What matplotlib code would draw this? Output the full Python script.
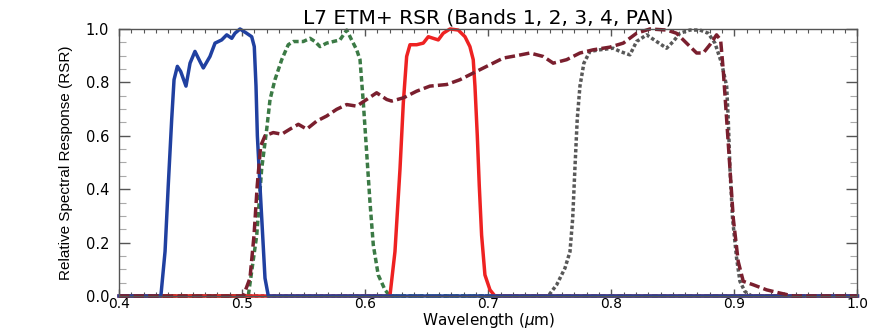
import matplotlib
matplotlib.use('Agg')
from matplotlib import pyplot as plt
from matplotlib.ticker import MultipleLocator

# relative spectral response curves
BAND1_WL = [0.400, 0.434, 0.4374, 0.4400, 0.4428, 0.4447, 0.4474, 0.4501, 0.4544, 0.4577,
            0.4617, 0.4658, 0.4685, 0.4739, 0.4780, 0.4834, 0.4875, 0.4916, 0.4942, 0.4983,
            0.5037, 0.5078, 0.5099, 0.5113, 0.5124, 0.5145, 0.5167, 0.5186, 0.5213, 1.000]
BAND1_RSR = [0.0, 0.0, 0.167, 0.414, 0.662, 0.810, 0.860, 0.841, 0.786, 0.872,
             0.916, 0.878, 0.854, 0.897, 0.947, 0.959, 0.978, 0.965, 0.984, 1.0,
             0.984, 0.971, 0.934, 0.786, 0.600, 0.414, 0.228, 0.067, 0.0, 0.0]

BAND2_WL = [0.400, 0.5050, 0.5119, 0.5159, 0.5200, 0.5227, 0.5267, 0.5322, 0.5375, 0.5416,
            0.5497, 0.5552, 0.5592, 0.5633, 0.5687, 0.5741, 0.5795, 0.5850, 0.5890, 0.5931,
            0.5958, 0.5985, 0.6012, 0.6039, 0.6066, 0.6106, 0.6161, 0.6201, 1.000]
BAND2_RSR = [0.0, 0.0, 0.228, 0.476, 0.625, 0.736, 0.810, 0.885, 0.941, 0.953,
             0.953, 0.965, 0.953, 0.934, 0.947, 0.953, 0.959, 0.996, 0.959, 0.922,
             0.885, 0.724, 0.538, 0.352, 0.191, 0.079, 0.023, 0.0, 0.0]

BAND3_WL = [0.400, 0.6201, 0.6242, 0.6283, 0.6310, 0.6337, 0.6364, 0.6418, 0.6472, 0.6513,
            0.6553, 0.6594, 0.6634, 0.6689, 0.6756, 0.6811, 0.6851, 0.6878, 0.6892, 0.6911,
            0.6927, 0.6946, 0.6973, 0.7014, 0.7054, 1.000]
BAND3_RSR = [0.0, 0.0, 0.166, 0.476, 0.724, 0.897, 0.941, 0.941, 0.947, 0.971,
             0.965, 0.959, 0.984, 1.0, 0.996, 0.971, 0.934, 0.885, 0.786, 0.600,
             0.414, 0.228, 0.079, 0.023, 0.0, 0.0]

BAND4_WL = [0.400, 0.7487, 0.7556, 0.7623, 0.7664, 0.7686, 0.7704, 0.7723, 0.7745, 0.7777,
            0.7826, 0.7907, 0.8015, 0.8070, 0.8151, 0.8205, 0.8287, 0.8368, 0.8449, 0.8503,
            0.8557, 0.8638, 0.8720, 0.8787, 0.8842, 0.8896, 0.8937, 0.8950, 0.8964, 0.8985,
            0.9018, 0.9045, 0.9085, 0.9140, 1.000]
BAND4_RSR = [0.0, 0.0, 0.042, 0.104, 0.166, 0.290, 0.476, 0.662, 0.786, 0.872,
             0.916, 0.922, 0.928, 0.916, 0.903, 0.953, 0.978, 0.953, 0.928, 0.953,
             0.984, 0.996, 0.996, 0.984, 0.947, 0.872, 0.786, 0.662, 0.476, 0.290,
             0.141, 0.055, 0.017, 0.0, 0.0]

PAN_WL = [0.400, 0.5010, 0.5064, 0.5097, 0.5123, 0.5151, 0.5186, 0.5253, 0.5322, 0.5389,
          0.5457, 0.5525, 0.5606, 0.5687, 0.5768, 0.5850, 0.5931, 0.6012, 0.6093, 0.6175,
          0.6215, 0.6310, 0.6418, 0.6526, 0.6662, 0.6770, 0.6878, 0.6987, 0.7122, 0.7230,
          0.7339, 0.7447, 0.7528, 0.7637, 0.7745, 0.7853, 0.7989, 0.8097, 0.8205, 0.8314,
          0.8449, 0.8530, 0.8611, 0.8693, 0.8747, 0.8801, 0.8855, 0.8888, 0.8909, 0.8937,
          0.8964, 0.8991, 0.9031, 0.9072, 0.9153, 0.9262, 0.9370, 0.9478, 1.000]
PAN_RSR = [0.0, 0.0, 0.067, 0.228, 0.414, 0.562, 0.600, 0.612, 0.606, 0.625,
           0.643, 0.625, 0.655, 0.674, 0.699, 0.717, 0.711, 0.736, 0.761, 0.736,
           0.730, 0.742, 0.767, 0.786, 0.792, 0.810, 0.835, 0.860, 0.891, 0.900,
           0.910, 0.897, 0.872, 0.885, 0.910, 0.922, 0.932, 0.947, 0.984, 1.0,
           0.996, 0.984, 0.947, 0.910, 0.910, 0.941, 0.978, 0.959, 0.848, 0.662,
           0.476, 0.290, 0.129, 0.055, 0.042, 0.023, 0.011, 0.0, 0.0]

X_TICKS = [0.4, 0.5, 0.6, 0.7, 0.8, 0.9, 1.0]
Y_TICKS = [0.0, 0.2, 0.4, 0.6, 0.8, 1.0]


def main():
    fig = plt.figure(figsize=(8.81, 3.30), dpi=100)
    ax = fig.add_axes([0.1351, 0.1030, 0.8382, 0.8092])

    lw = 2.5
    ax.plot(BAND4_WL, BAND4_RSR, color='#585858', lw=lw, dashes=(1.0, 0.7), clip_on=False)
    ax.plot(BAND2_WL, BAND2_RSR, color='#3b7a45', lw=lw, dashes=(1.6, 0.9), clip_on=False)
    ax.plot(BAND3_WL, BAND3_RSR, color='#ee2222', lw=lw, clip_on=False)
    ax.plot(BAND1_WL, BAND1_RSR, color='#2040a0', lw=lw, clip_on=False)
    ax.plot(PAN_WL, PAN_RSR, color='#7a1f2e', lw=lw, dashes=(3.0, 1.2), clip_on=False)

    ax.set_xlim(0.4, 1.0)
    ax.set_ylim(0.0, 1.0)
    ax.set_xticks(X_TICKS)
    ax.set_yticks(Y_TICKS)
    ax.set_xticklabels([f'{t:.1f}' for t in X_TICKS])
    ax.set_yticklabels([f'{t:.1f}' for t in Y_TICKS])
    ax.xaxis.set_minor_locator(MultipleLocator(0.01))
    ax.yaxis.set_minor_locator(MultipleLocator(0.05))

    ax.tick_params(which='both', direction='in', top=True, right=True, color='#555555')
    ax.tick_params(axis='x', which='major', length=5, width=1, pad=1, labelsize=10)
    ax.tick_params(axis='x', which='minor', length=3, width=0.8)
    ax.tick_params(axis='y', which='major', length=8, width=1, pad=7, labelsize=10.5)
    ax.tick_params(axis='y', which='minor', length=5, width=0.8, color='#aaaaaa')
    for sp in ax.spines.values():
        sp.set_color('#555555')
        sp.set_linewidth(1)

    ax.set_xlabel(r'Wavelength ($\mu$m)', fontsize=11, labelpad=0)
    ax.set_ylabel('Relative Spectral Response (RSR)',
                  family=['Liberation Sans Narrow', 'Liberation Sans', 'DejaVu Sans'],
                  fontsize=11, labelpad=9)
    ax.set_title('L7 ETM+ RSR (Bands 1, 2, 3, 4, PAN)', fontsize=14.5, pad=4)

    fig.savefig('out.png', dpi=100)
    plt.close(fig)


if __name__ == '__main__':
    main()
